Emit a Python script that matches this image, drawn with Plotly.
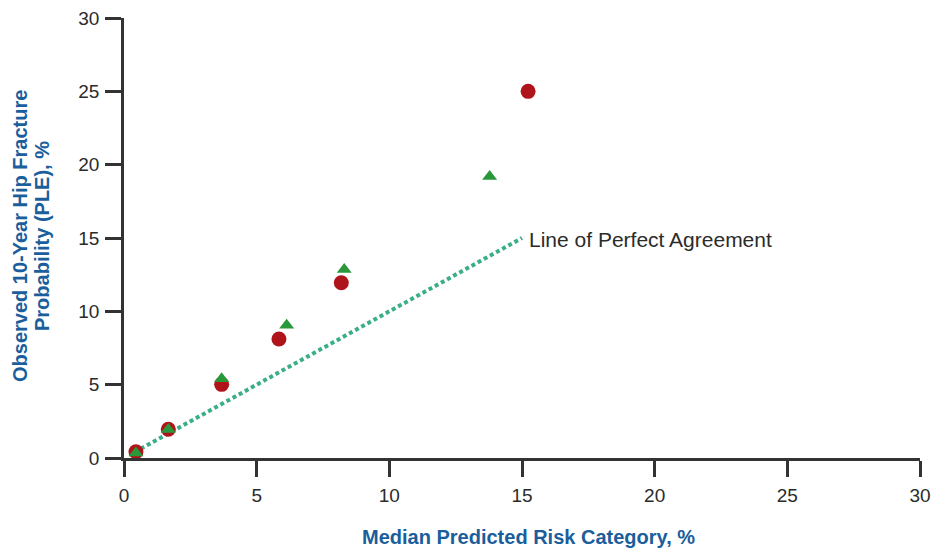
import plotly.graph_objects as go

# Data
circle_x = [0.45, 1.67, 3.68, 5.84, 8.19, 15.23]
circle_y = [0.43, 1.96, 5.02, 8.11, 11.95, 25.0]
tri_x = [0.45, 1.67, 3.68, 6.13, 8.30, 13.78]
tri_y = [0.34, 1.94, 5.41, 9.05, 12.86, 19.2]
agree_x = [0.4, 15]
agree_y = [0.4, 15]
agree_label = "Line of Perfect Agreement"

x_ticks = [0, 5, 10, 15, 20, 25, 30]
y_ticks = [0, 5, 10, 15, 20, 25, 30]

x_title = "Median Predicted Risk Category, %"
y_title_lines = ["Observed 10-Year Hip Fracture", "Probability (PLE), %"]

axis_col = "#333333"
title_col = "#1a5e9c"
text_col = "#2b2b2b"
font_fam = "Liberation Sans, Arial, sans-serif"

fig = go.Figure()
fig.add_trace(go.Scatter(
    x=agree_x, y=agree_y, mode="lines",
    line=dict(color="#3aaf86", width=4, dash="4px,3px"),
    hoverinfo="skip", showlegend=False))
fig.add_trace(go.Scatter(
    x=circle_x, y=circle_y, mode="markers",
    marker=dict(symbol="circle", size=15, color="#b0141b", line=dict(width=0)),
    showlegend=False))
fig.add_trace(go.Scatter(
    x=tri_x, y=tri_y, mode="markers",
    marker=dict(symbol="triangle-up", size=13, color="#28983a", line=dict(width=0)),
    showlegend=False))

fig.add_annotation(x=agree_x[-1], y=agree_y[-1], xref="x", yref="y",
                   text=agree_label, showarrow=False, xanchor="left", yanchor="middle",
                   xshift=5, yshift=-1, font=dict(size=21, color=text_col, family=font_fam))

# axis titles
fig.add_annotation(x=0.5, y=0, xref="paper", yref="paper", xshift=6, yshift=-79,
                   text="<b>" + x_title + "</b>", showarrow=False,
                   xanchor="center", yanchor="middle",
                   font=dict(size=20, color=title_col, family=font_fam))
for i, line in enumerate(y_title_lines):
    fig.add_annotation(x=0, y=0.5, xref="paper", yref="paper",
                       xshift=-104 + 22 * i, yshift=2,
                       text="<b>" + line + "</b>", showarrow=False, textangle=-90,
                       xanchor="center", yanchor="middle",
                       font=dict(size=20, color=title_col, family=font_fam))

# page body has an 8px margin, so the figure is 932x540 and offset by 8px
fig.update_layout(
    width=932, height=540,
    margin=dict(l=116, r=20, t=10, b=90),
    paper_bgcolor="white", plot_bgcolor="white",
    font=dict(family=font_fam, size=19, color=text_col),
    xaxis=dict(range=[0, 30], tickvals=x_ticks, showgrid=False, zeroline=False,
               showline=True, linecolor=axis_col, linewidth=2.5,
               ticks="outside", ticklen=16, tickwidth=2.5, tickcolor=axis_col,
               ticklabelstandoff=2, automargin=False, ticklabeloverflow="allow",
               tickfont=dict(size=19, color=text_col)),
    yaxis=dict(range=[0, 30], tickvals=y_ticks, showgrid=False, zeroline=False,
               showline=True, linecolor=axis_col, linewidth=2.5,
               ticks="outside", ticklen=16, tickwidth=2.5, tickcolor=axis_col,
               ticklabelstandoff=2, automargin=False, ticklabeloverflow="allow",
               tickfont=dict(size=19, color=text_col)),
)

fig.write_html("out.html")
